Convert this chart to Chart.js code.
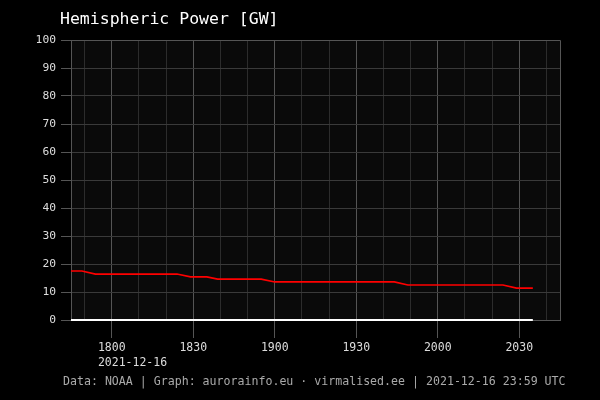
<!DOCTYPE html>
<html>
<head>
<meta charset="utf-8">
<script src="https://cdn.jsdelivr.net/npm/chart.js@4.4.1/dist/chart.umd.min.js"></script>
<style>
    html, body { margin: 0; padding: 0; background: #000; }
    #wrap { width: 600px; height: 400px; }
</style>
</head>
<body>
<div id="wrap"><canvas id="powerChart"></canvas></div>
<script>
// Observation times (UTC) and hemispheric power in GW
const times = ['17:45', '17:49', '17:54', '18:24', '18:29', '18:35', '18:39',
               '18:55', '19:00', '19:44', '19:49', '20:24', '20:29', '20:35'];
const power = [17.5, 17.5, 16.4, 16.4, 15.4, 15.4, 14.6,
               14.6, 13.6, 13.6, 12.5, 12.5, 11.4, 11.4];
const baseline = [0, 0, 0, 0, 0, 0, 0, 0, 0, 0, 0, 0, 0, 0];

const xRange = ['17:45', '20:45'];
const dateLabel = '2021-12-16';
const titleText = 'Hemispheric Power [GW]';
const footerText = 'Data: NOAA | Graph: aurorainfo.eu \u00b7 virmalised.ee | 2021-12-16 23:59 UTC';

const MONO = '"DejaVu Sans Mono", monospace';

const toMin = (s) => {
    const [h, m] = s.split(':').map(Number);
    return h * 60 + m;
};
const fmt = (v) => String(Math.floor(v / 60)).padStart(2, '0') + String(v % 60).padStart(2, '0');
const isMajor = (v) => v % 30 === 0;

const decorations = {
    id: 'decorations',
    beforeDraw(chart) {
        const { ctx, chartArea: a } = chart;
        ctx.save();
        ctx.fillStyle = '#000';
        ctx.fillRect(0, 0, chart.width, chart.height);
        ctx.fillStyle = '#0a0a0a';
        ctx.fillRect(a.left, a.top, a.right - a.left, a.bottom - a.top);
        ctx.restore();
    },
    afterDraw(chart) {
        const { ctx, chartArea: a } = chart;
        const x = chart.scales.x;
        ctx.save();

        // frame on the right and top
        ctx.strokeStyle = '#555';
        ctx.lineWidth = 1;
        ctx.beginPath();
        ctx.moveTo(Math.round(a.left), Math.round(a.top) + 0.5);
        ctx.lineTo(Math.round(a.right) + 0.5, Math.round(a.top) + 0.5);
        ctx.lineTo(Math.round(a.right) + 0.5, Math.round(a.bottom));
        ctx.stroke();

        ctx.textBaseline = 'middle';
        ctx.textAlign = 'left';
        ctx.fillStyle = '#fff';
        ctx.font = '16.5px ' + MONO;
        ctx.fillText(titleText, 60, 20);

        // date under the first labelled tick
        ctx.font = '11.5px ' + MONO;
        ctx.fillStyle = '#ddd';
        const firstMajor = Math.ceil(toMin(xRange[0]) / 30) * 30;
        const w = ctx.measureText(fmt(firstMajor)).width;
        ctx.fillText(dateLabel, x.getPixelForValue(firstMajor) - w / 2, 363);

        ctx.font = '11.6px ' + MONO;
        ctx.fillStyle = '#aaa';
        ctx.fillText(footerText, 63, 382);
        ctx.restore();
    }
};

new Chart(document.getElementById('powerChart'), {
    type: 'line',
    data: {
        datasets: [{
            label: 'Hemispheric Power',
            data: times.map((t, i) => ({ x: toMin(t), y: power[i] })),
            borderColor: '#ff0000',
            borderWidth: 1.6,
            pointRadius: 0,
            fill: false,
            tension: 0
        }, {
            label: 'Baseline',
            data: times.map((t, i) => ({ x: toMin(t), y: baseline[i] })),
            borderColor: '#ffffff',
            borderWidth: 2,
            pointRadius: 0,
            fill: false,
            clip: 3
        }]
    },
    options: {
        responsive: true,
        maintainAspectRatio: false,
        animation: false,
        layout: { padding: { left: 0, right: 40, top: 40, bottom: 0 } },
        plugins: {
            legend: { display: false },
            title: { display: false },
            tooltip: { enabled: false }
        },
        scales: {
            x: {
                type: 'linear',
                min: toMin(xRange[0]),
                max: toMin(xRange[1]),
                afterFit: (axis) => { axis.height = 80; },
                afterBuildTicks: (axis) => {
                    const ticks = [];
                    for (let v = Math.ceil(axis.min / 10) * 10; v <= axis.max; v += 10) ticks.push({ value: v });
                    axis.ticks = ticks;
                },
                border: { display: true, color: '#555', width: 1 },
                grid: {
                    color: (c) => (c.tick && isMajor(c.tick.value)) ? '#555' : '#2c2c2c',
                    tickColor: (c) => (c.tick && isMajor(c.tick.value)) ? '#555' : 'rgba(0,0,0,0)',
                    tickLength: 18,
                    lineWidth: 1
                },
                ticks: {
                    autoSkip: false,
                    maxRotation: 0,
                    color: '#ddd',
                    font: { family: MONO, size: 11.5 },
                    padding: 3,
                    callback: (v) => isMajor(v) ? fmt(v) : ''
                }
            },
            y: {
                min: 0,
                max: 100,
                afterFit: (axis) => { axis.width = 71; },
                border: { display: true, color: '#555', width: 1 },
                grid: {
                    color: '#3a3a3a',
                    tickColor: '#555',
                    tickLength: 10,
                    lineWidth: 1
                },
                ticks: {
                    stepSize: 10,
                    color: '#ddd',
                    font: { family: MONO, size: 11.3 },
                    padding: 5
                }
            }
        }
    },
    plugins: [decorations]
});
</script>
</body>
</html>
